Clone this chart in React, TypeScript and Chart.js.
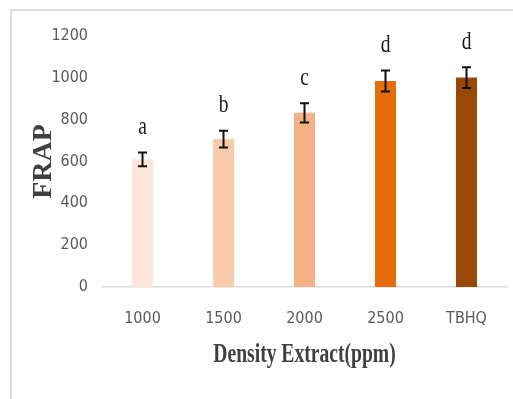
import React, { useEffect, useRef } from "react";
import { Chart, registerables } from "chart.js";

Chart.register(...registerables);

const categories: string[] = ["1000", "1500", "2000", "2500", "TBHQ"];
const frapValues: number[] = [610, 707, 833, 985, 1001];
const errorValues: number[] = [33, 40, 46, 50, 50];
const letters: string[] = ["a", "b", "c", "d", "d"];
const barColors: string[] = ["#FCE4D6", "#F8CBAD", "#F4B183", "#E46C0A", "#984807"];
const yTicks: number[] = [0, 200, 400, 600, 800, 1000, 1200];

const xTitle = "Density Extract(ppm)";
const yTitle = "FRAP";

const narrow = "'DejaVu Sans Condensed', 'Liberation Sans Narrow', sans-serif";
const serif = "'Liberation Serif', 'Times New Roman', serif";

const framePlugin = {
  id: "frame",
  beforeDraw(chart: any) {
    const ctx = chart.ctx;
    ctx.save();
    ctx.fillStyle = "#ffffff";
    ctx.fillRect(0, 0, chart.width, chart.height);
    ctx.strokeStyle = "#dedede";
    ctx.lineWidth = 2;
    ctx.strokeRect(11, 10, chart.width + 20, chart.height + 20);
    ctx.restore();
  },
};

const annotPlugin = {
  id: "annot",
  afterDatasetsDraw(chart: any) {
    const ctx = chart.ctx;
    const xs = chart.scales.x;
    const ys = chart.scales.y;
    ctx.save();
    // error bars
    ctx.strokeStyle = "#111111";
    ctx.lineWidth = 2;
    frapValues.forEach((v, i) => {
      const x = xs.getPixelForValue(i);
      const top = ys.getPixelForValue(v + errorValues[i]);
      const bot = ys.getPixelForValue(v - errorValues[i]);
      ctx.beginPath();
      ctx.moveTo(x, top);
      ctx.lineTo(x, bot);
      ctx.moveTo(x - 4.5, top);
      ctx.lineTo(x + 4.5, top);
      ctx.moveTo(x - 4.5, bot);
      ctx.lineTo(x + 4.5, bot);
      ctx.stroke();
    });
    // significance letters
    ctx.fillStyle = "#1a1a1a";
    ctx.font = `25px ${serif}`;
    ctx.textAlign = "center";
    ctx.textBaseline = "middle";
    letters.forEach((l, i) => {
      const x = xs.getPixelForValue(i);
      const y = ys.getPixelForValue(frapValues[i] + errorValues[i]) - 25;
      ctx.save();
      ctx.translate(x, y);
      ctx.scale(0.78, 1);
      ctx.fillText(l, 0, 0);
      ctx.restore();
    });
    // x axis title (condensed)
    const cx = (chart.chartArea.left + chart.chartArea.right) / 2;
    ctx.fillStyle = "#404040";
    ctx.font = `bold 28px ${serif}`;
    ctx.save();
    ctx.translate(cx, 355);
    ctx.scale(0.7, 1);
    ctx.fillText(xTitle, 0, 0);
    ctx.restore();
    ctx.restore();
  },
};

export default function App() {
  const ref = useRef<HTMLCanvasElement | null>(null);

  useEffect(() => {
    document.body.style.margin = "0";
    if (!ref.current) return;
    const chart = new Chart(ref.current, {
      type: "bar",
      data: {
        labels: categories,
        datasets: [
          {
            label: yTitle,
            data: frapValues,
            backgroundColor: barColors,
            borderWidth: 0,
            categoryPercentage: 1,
            barPercentage: 0.26,
          },
        ],
      },
      options: {
        animation: false,
        responsive: false,
        maintainAspectRatio: false,
        layout: { padding: { top: 36, right: 6, left: 0, bottom: 0 } },
        plugins: {
          legend: { display: false },
          tooltip: { enabled: false },
        },
        scales: {
          x: {
            grid: { display: false, drawTicks: false },
            border: { display: true, color: "#d9d9d9", width: 1.5 },
            ticks: {
              color: "#595959",
              font: { family: narrow, size: 16 },
              padding: 22,
              maxRotation: 0,
            },
            afterFit(scale: any) {
              scale.height = 112;
            },
          },
          y: {
            min: 0,
            max: 1200,
            grid: { display: false, drawTicks: false },
            border: { display: false },
            afterBuildTicks(scale: any) {
              scale.ticks = yTicks.map((v) => ({ value: v }));
            },
            ticks: {
              color: "#595959",
              font: { family: narrow, size: 16 },
              padding: 14,
              callback: (v: any) => String(v),
            },
            title: {
              display: true,
              text: yTitle,
              color: "#404040",
              font: { family: serif, size: 28, weight: "bold" },
              padding: { top: 27, bottom: 0 },
            },
            afterFit(scale: any) {
              scale.width = 102;
            },
          },
        },
      },
      plugins: [framePlugin, annotPlugin],
    });
    return () => chart.destroy();
  }, []);

  return (
    <div style={{ width: 513, height: 399 }}>
      <canvas ref={ref} width={513} height={399} style={{ display: "block" }} />
    </div>
  );
}
